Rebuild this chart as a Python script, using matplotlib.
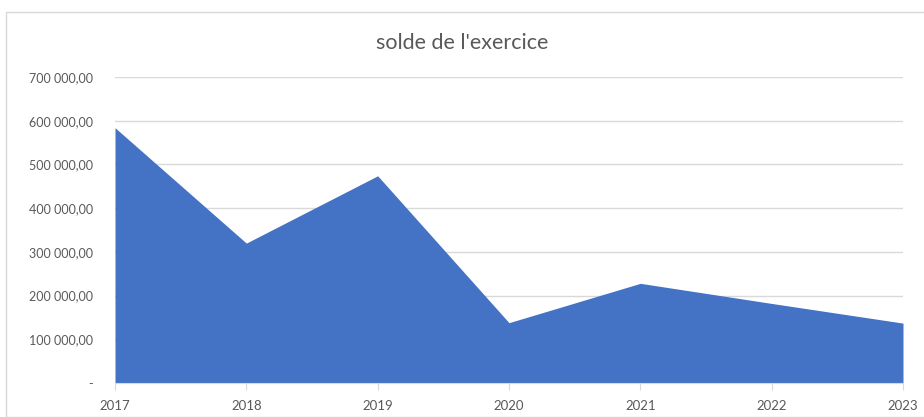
import matplotlib.pyplot as plt
from matplotlib.patches import Rectangle
from matplotlib.ticker import FuncFormatter

years = ['2017', '2018', '2019', '2020', '2021', '2022', '2023']
solde = [584000, 320000, 474000, 138000, 228000, 182000, 137000]

plt.rcParams['font.family'] = ['Lato', 'DejaVu Sans']
grey = '#595959'

fig = plt.figure(figsize=(9.24, 4.17), dpi=100)
ax = fig.add_axes([115 / 924, 1 - 383 / 417, 788 / 924, 306 / 417])

x = range(len(years))
ax.fill_between(x, solde, 0, color='#4472C4', lw=0, zorder=2)

ax.set_xlim(0, len(years) - 1)
ax.set_ylim(0, 700000)
ax.set_yticks(range(0, 700001, 100000))


def fmt(v, pos):
    if v == 0:
        return '-'
    return f'{int(v):,}'.replace(',', ' ') + ',00'


ax.yaxis.set_major_formatter(FuncFormatter(fmt))
ax.set_xticks(list(x))
ax.set_xticklabels(years)

ax.grid(axis='y', color='#d9d9d9', lw=1, zorder=0)
for s in ['top', 'right', 'left']:
    ax.spines[s].set_visible(False)
ax.spines['bottom'].set_color('#d9d9d9')
ax.tick_params(axis='y', length=0, pad=16, labelsize=9, labelcolor=grey)
ax.tick_params(axis='x', length=5, color='#d9d9d9', pad=7, labelsize=9.5, labelcolor=grey)

fig.text(0.5, 1 - 43 / 417, "solde de l'exercice", ha='center', va='center',
         fontsize=15.5, color=grey)

fig.patches.append(Rectangle((6 / 924, 0), 1, 1 - 12 / 417, transform=fig.transFigure,
                             fill=False, edgecolor='#d9d9d9', lw=1))

fig.savefig('out.png', dpi=100)
